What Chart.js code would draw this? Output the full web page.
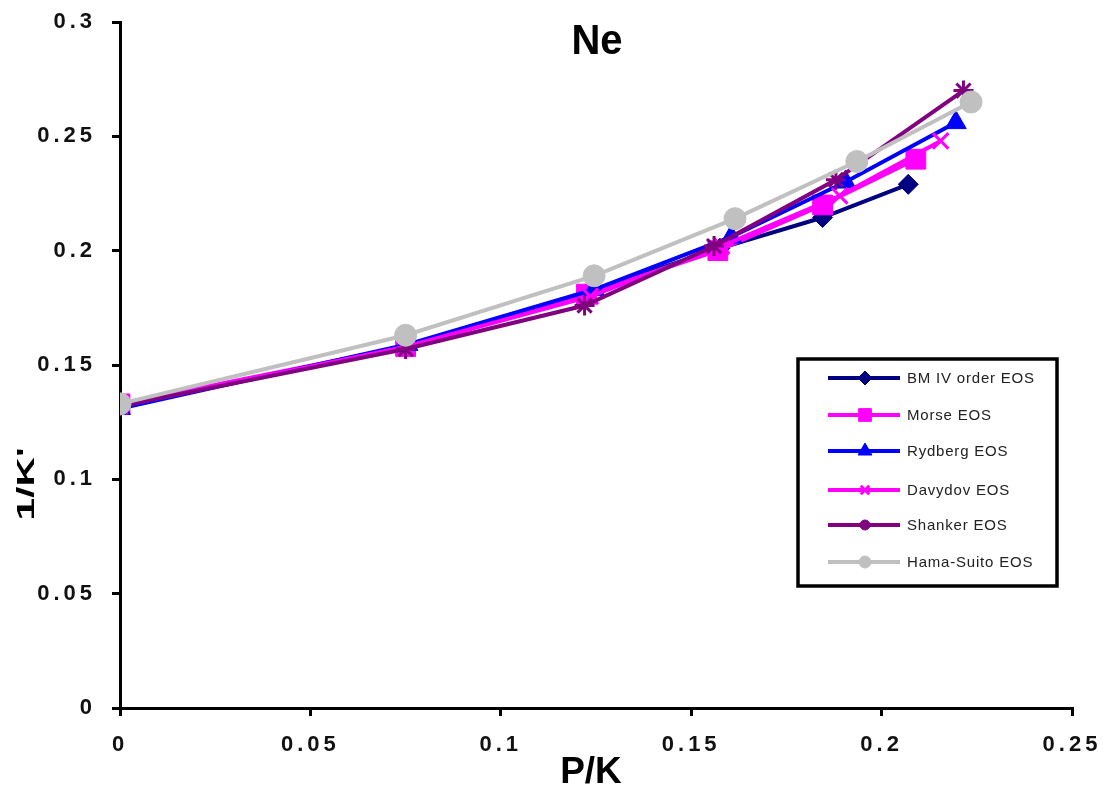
<!DOCTYPE html>
<html>
<head>
<meta charset="utf-8">
<script src="https://cdn.jsdelivr.net/npm/chart.js@4/dist/chart.umd.min.js"></script>
<style>
  html, body { margin: 0; padding: 0; background: #fff; }
  #wrap { width: 1107px; height: 798px; }
</style>
</head>
<body>
<div id="wrap"><canvas id="myChart" width="1107" height="798"></canvas></div>
<script>
// Ne - 1/K' contra P/K, seis equações de estado
const seriesNames = ['BM IV order EOS', 'Morse EOS', 'Rydberg EOS', 'Davydov EOS', 'Shanker EOS', 'Hama-Suito EOS'];

const bmX = [0, 0.075, 0.123, 0.1575, 0.1845, 0.207];
const bmY = [0.132, 0.158, 0.182, 0.201, 0.2145, 0.229];
const morseX = [0, 0.075, 0.1225, 0.157, 0.1845, 0.209];
const morseY = [0.133, 0.158, 0.181, 0.200, 0.220, 0.240];
const rydbergX = [0, 0.0755, 0.1245, 0.1605, 0.1905, 0.2195];
const rydbergY = [0.131, 0.159, 0.183, 0.206, 0.230, 0.256];
const davydovX = [0, 0.075, 0.1235, 0.158, 0.189, 0.2155];
const davydovY = [0.132, 0.158, 0.180, 0.202, 0.224, 0.248];
const shankerX = [0, 0.075, 0.122, 0.156, 0.188, 0.2215];
const shankerY = [0.132, 0.157, 0.176, 0.202, 0.231, 0.270];
const hamaX = [0, 0.075, 0.1245, 0.1615, 0.1935, 0.2235];
const hamaY = [0.133, 0.163, 0.189, 0.214, 0.239, 0.265];

const xTicks = [0, 0.05, 0.1, 0.15, 0.2, 0.25];
const yTicks = [0, 0.05, 0.1, 0.15, 0.2, 0.25, 0.3];

const allX = [bmX, morseX, rydbergX, davydovX, shankerX, hamaX];
const allY = [bmY, morseY, rydbergY, davydovY, shankerY, hamaY];

const colors = ['#000080', '#ff00ff', '#0000ff', '#ff00ff', '#800080', '#c0c0c0'];
const styles = ['rectRot', 'rect', 'triangle', 'crossRot', 'star', 'circle'];
const radii = [10, 14, 12, 11, 10, 11];
const legendStyles = ['rectRot', 'rect', 'triangle', 'crossRot', 'circle', 'circle'];
const legendRadii = [7, 9, 8, 6, 5, 6];

function pairs(xs, ys) {
    return xs.map((x, i) => ({ x: x, y: ys[i] }));
}

const FONT = '"Liberation Sans", Arial, sans-serif';

const datasets = seriesNames.map((name, i) => ({
    label: name,
    data: pairs(allX[i], allY[i]),
    borderColor: colors[i],
    backgroundColor: colors[i],
    borderWidth: 4,
    pointStyle: styles[i],
    pointRadius: radii[i],
    pointBorderWidth: (styles[i] === 'crossRot' || styles[i] === 'star') ? 3 : 1,
    pointBorderColor: colors[i],
    pointBackgroundColor: colors[i],
    tension: 0,
    order: 5 - i
}));

// espaçamento das letras dos rótulos dos eixos
const spacing = {
    id: 'spacing',
    beforeUpdate(chart) { chart.ctx.letterSpacing = '4px'; },
    beforeDraw(chart) { chart.ctx.letterSpacing = '4px'; }
};

// título, rótulo do eixo y e legenda desenhados à mão
const decorations = {
    id: 'decorations',
    afterDraw(chart) {
        const c = chart.ctx;
        c.save();
        c.letterSpacing = '0px';
        c.fillStyle = '#000';
        c.textAlign = 'center';
        c.textBaseline = 'middle';

        c.save();
        c.translate(597, 42);
        c.scale(1, 1.05);
        c.font = 'bold 40px ' + FONT;
        c.fillText('Ne', 0, 0);
        c.restore();

        c.save();
        c.translate(591, 773);
        c.font = 'bold 37px ' + FONT;
        c.fillText('P/K', 0, 0);
        c.restore();

        c.save();
        c.translate(27, 484);
        c.rotate(-Math.PI / 2);
        c.scale(1.7, 1);
        c.font = 'bold 24px ' + FONT;
        c.fillText("1/K'", 0, 0);
        c.restore();

        // legenda
        c.lineWidth = 3.5;
        c.strokeStyle = '#000';
        c.strokeRect(798, 359, 259, 227);
        const rows = [378, 415, 451, 490, 525, 562];
        c.textAlign = 'left';
        c.font = '15px ' + FONT;
        c.letterSpacing = '0.8px';
        rows.forEach((ry, i) => {
            c.strokeStyle = colors[i];
            c.fillStyle = colors[i];
            c.lineWidth = 4;
            c.beginPath();
            c.moveTo(828, ry);
            c.lineTo(900, ry);
            c.stroke();
            c.lineWidth = legendStyles[i] === 'crossRot' ? 3 : 1;
            Chart.helpers.drawPoint(c, { pointStyle: legendStyles[i], radius: legendRadii[i], rotation: 0, borderWidth: c.lineWidth }, 865, ry);
            c.fillStyle = '#222';
            c.fillText(seriesNames[i], 907, ry + 1);
        });
        c.restore();
    }
};

const ctx = document.getElementById('myChart').getContext('2d');
const myChart = new Chart(ctx, {
    type: 'line',
    data: { datasets: datasets },
    options: {
        responsive: false,
        animation: false,
        layout: { padding: { top: 22, right: 35, left: 0, bottom: 0 } },
        plugins: {
            legend: { display: false },
            tooltip: { enabled: false },
            title: { display: false }
        },
        scales: {
            x: {
                type: 'linear',
                min: 0,
                max: 0.25,
                afterFit: s => { s.height = 90; s.paddingLeft = 0; s.paddingRight = 0; },
                afterBuildTicks: s => { s.ticks = xTicks.map(v => ({ value: v })); },
                ticks: {
                    color: '#111',
                    font: { family: FONT, size: 22, weight: 'bold' },
                    padding: 16,
                    maxRotation: 0,
                    callback: v => String(+v.toFixed(2))
                },
                grid: { drawOnChartArea: false, drawTicks: true, tickLength: 8, color: '#000', lineWidth: 3 },
                border: { display: true, color: '#000', width: 3 }
            },
            y: {
                type: 'linear',
                min: 0,
                max: 0.3,
                afterFit: s => { s.width = 120; s.paddingTop = 0; s.paddingBottom = 0; },
                afterBuildTicks: s => { s.ticks = yTicks.map(v => ({ value: v })); },
                ticks: {
                    color: '#111',
                    font: { family: FONT, size: 22, weight: 'bold' },
                    padding: 16,
                    callback: v => String(+v.toFixed(2))
                },
                grid: { drawOnChartArea: false, drawTicks: true, tickLength: 8, color: '#000', lineWidth: 3 },
                border: { display: true, color: '#000', width: 3 }
            }
        }
    },
    plugins: [spacing, decorations]
});
</script>
</body>
</html>
